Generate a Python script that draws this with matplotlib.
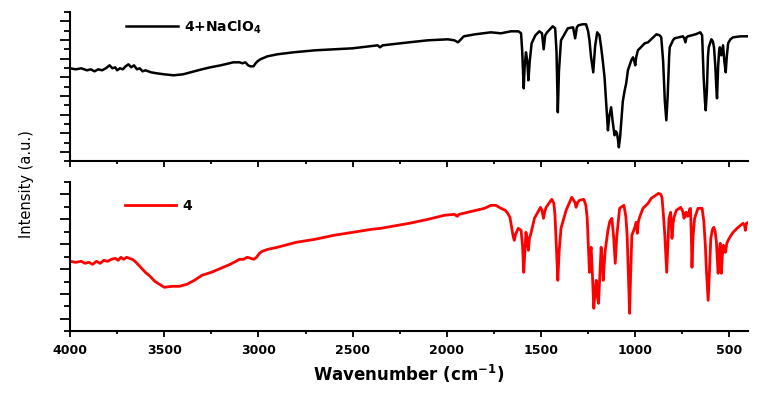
"""
FT-IR 비교: 4 vs 4+NaClO4
"""
import numpy as np
import matplotlib
matplotlib.use("Agg")
import matplotlib.pyplot as plt
import matplotlib.ticker as mticker

plt.rcParams["font.family"] = ["DejaVu Sans"]
plt.rcParams["mathtext.default"] = "bf"

# ── 데이터 (그림에서 읽은 값, 임의 단위) ─────────────────────────────
# 4+NaClO4 (위, 검정)
top_wn = [
    4000, 3970, 3940, 3910, 3890, 3870, 3850, 3830, 3810, 3790, 3775, 3760, 3750,
    3735, 3720, 3705, 3690, 3675, 3660, 3645, 3630, 3615, 3600, 3570, 3540, 3500,
    3450, 3400, 3360, 3300, 3255, 3200, 3133, 3100, 3085, 3069, 3055, 3043, 3026,
    3015, 3005, 2990, 2952, 2900, 2814, 2700, 2500, 2367, 2355, 2340, 2200, 2101,
    1995, 1960, 1941, 1925, 1910, 1850, 1766, 1713, 1660, 1620, 1606, 1600, 1592,
    1587, 1580, 1573, 1567, 1560, 1550, 1530, 1509, 1495, 1486, 1478, 1468, 1438,
    1425, 1418, 1411, 1405, 1394, 1358, 1330, 1319, 1310, 1302, 1280, 1261, 1250,
    1243, 1235, 1223, 1213, 1202, 1190, 1181, 1172, 1163, 1153, 1145, 1138, 1128,
    1120, 1110, 1103, 1097, 1092, 1087, 1080, 1072, 1066, 1057, 1048, 1039, 1030,
    1021, 1012, 1005, 1000, 995, 986, 970, 950, 932, 910, 888, 870, 862, 852, 843,
    835, 828, 820, 817, 800, 791, 747, 740, 734, 728, 720, 680, 655, 645, 640, 637,
    630, 626, 620, 614, 610, 596, 588, 582, 575, 570, 566, 560, 555, 551, 543, 534,
    527, 520, 514, 507, 495, 481, 440, 400,
]
top_int = [
    93, 92, 93, 91, 92, 90, 92, 91, 93, 96, 93, 94, 91,
    93, 92, 95, 97, 94, 96, 92, 93, 90, 91, 89, 88, 87,
    86, 87, 89, 92, 94, 96, 99, 99, 98, 99, 96, 95, 95,
    98, 100, 102, 105, 107, 109, 111, 113, 116, 114, 116, 119, 121,
    122, 121, 119, 122, 125, 127, 129, 128, 130, 130, 128, 110, 73,
    95, 109, 100, 81, 100, 118, 126, 130, 128, 112, 126, 129, 135,
    133, 110, 49, 90, 121, 133, 134, 123, 134, 136, 137, 137, 130,
    121, 105, 89, 115, 129, 126, 114, 100, 84, 55, 31, 45, 54,
    40, 26, 30, 28, 22, 14, 25, 45, 60, 70, 78, 91, 96,
    101, 104, 100, 96, 104, 111, 114, 118, 119, 123, 127, 126, 124, 100, 60,
    41, 65, 105, 114, 121, 123, 125, 123, 119, 124, 125, 127, 129, 126, 100, 84,
    60, 51, 70, 105, 114, 122, 120, 114, 95, 75, 63, 95, 110, 114, 106, 116,
    100, 89, 105, 118, 122, 124, 125, 125,
]

# 4 (아래, 빨강)
bot_wn = [
    4000, 3970, 3940, 3920, 3900, 3880, 3860, 3840, 3820, 3800, 3780, 3760, 3745,
    3730, 3715, 3700, 3685, 3670, 3655, 3640, 3625, 3600, 3575, 3550, 3525, 3500,
    3460, 3420, 3380, 3340, 3300, 3250, 3200, 3150, 3100, 3080, 3060, 3040, 3025,
    3010, 2995, 2980, 2950, 2900, 2800, 2700, 2600, 2500, 2400, 2351, 2200, 2100,
    2014, 1960, 1945, 1935, 1890, 1800, 1766, 1740, 1713, 1690, 1677, 1665, 1656,
    1648, 1642, 1635, 1621, 1606, 1598, 1592, 1586, 1580, 1573, 1567, 1561, 1556,
    1545, 1535, 1503, 1495, 1487, 1480, 1473, 1443, 1432, 1426, 1418, 1411, 1404,
    1394, 1367, 1337, 1320, 1314, 1305, 1296, 1273, 1262, 1255, 1249, 1243, 1238,
    1234, 1227, 1220, 1213, 1207, 1201, 1195, 1188, 1181, 1175, 1170, 1160, 1145,
    1135, 1124, 1115, 1106, 1098, 1083, 1060, 1050, 1043, 1036, 1030, 1024, 1018,
    1004, 995, 989, 983, 977, 959, 932, 915, 876, 865, 858, 850, 844, 833, 827,
    821, 812, 805, 799, 794, 782, 759, 748, 741, 735, 729, 723, 717, 712, 707, 703,
    699, 693, 685, 667, 645, 636, 628, 622, 613, 606, 599, 590, 583, 576, 569, 564,
    560, 555, 549, 546, 543, 538, 532, 527, 521, 514, 507, 495, 481, 454, 428, 420,
    415, 410, 400,
]
bot_int = [
    70, 69, 70, 68, 69, 67, 70, 68, 71, 70, 72, 73, 71,
    74, 72, 74, 73, 72, 70, 67, 64, 59, 55, 50, 47, 44,
    45, 45, 47, 51, 56, 59, 63, 67, 72, 72, 74, 73, 72,
    74, 78, 80, 82, 84, 89, 92, 96, 99, 102, 103, 108, 112,
    116, 117, 115, 117, 119, 123, 126, 126, 123, 121, 118, 114, 104,
    95, 91, 97, 103, 101, 85, 59, 80, 99, 90, 81, 94, 96,
    105, 113, 124, 121, 113, 120, 124, 132, 128, 116, 80, 51, 80,
    103, 121, 134, 129, 124, 129, 131, 132, 126, 113, 85, 59, 80,
    84, 55, 23, 40, 51, 35, 28, 55, 84, 70, 51, 80, 101,
    110, 113, 95, 68, 95, 123, 126, 115, 96, 55, 18, 60, 96,
    103, 109, 98, 110, 114, 123, 128, 133, 138, 137, 134, 115, 99, 59, 85,
    113, 119, 93, 108, 114, 121, 124, 120, 113, 118, 119, 115, 116, 122, 123, 100,
    64, 95, 113, 123, 123, 110, 86, 60, 31, 60, 93, 102, 104, 100, 89, 70,
    58, 78, 88, 75, 58, 75, 86, 84, 79, 88, 91, 95, 99, 104, 108, 106,
    101, 108, 109,
]

TOP_LABEL = "4+NaClO$_4$"
BOT_LABEL = "4"

# ── 그림 ──────────────────────────────────────────────────────────────
fig = plt.figure(figsize=(7.57, 3.94), dpi=100)
ax_top = fig.add_axes([0.0925, 0.5906, 0.896, 0.3789])
ax_bot = fig.add_axes([0.0925, 0.1591, 0.896, 0.3789])

ax_top.plot(top_wn, top_int, color="black", lw=1.8, label=TOP_LABEL)
ax_bot.plot(bot_wn, bot_int, color="#ff0000", lw=2.0, label=BOT_LABEL)

for ax in (ax_top, ax_bot):
    ax.set_xlim(4000, 400)
    ax.set_ylim(0, 149.3)
    ax.spines["top"].set_visible(False)
    ax.spines["right"].set_visible(False)
    ax.spines["left"].set_linewidth(1.5)
    ax.spines["bottom"].set_linewidth(1.5)
    ax.xaxis.set_major_locator(mticker.MultipleLocator(500))
    ax.xaxis.set_minor_locator(mticker.MultipleLocator(250))
    n = 16 if ax is ax_top else 12
    step = 149.3 / n
    ax.set_yticks([step * k for k in range(1, n + 1, 2)])
    ax.set_yticks([step * k for k in range(0, n + 1, 2)], minor=True)
    ax.set_yticklabels([])
    ax.tick_params(axis="y", which="major", direction="out", length=7, width=1.3)
    ax.tick_params(axis="y", which="minor", direction="out", length=4, width=1.3)
    ax.tick_params(axis="x", which="major", direction="out", length=4, width=1.3)
    ax.tick_params(axis="x", which="minor", direction="out", length=2.5, width=1.3)

ax_top.set_xticklabels([])
for lab in ax_bot.get_xticklabels():
    lab.set_fontweight("bold")
    lab.set_fontsize(9)
ax_bot.tick_params(axis="x", which="major", pad=5)

leg_kw = dict(frameon=False, loc="center left", borderpad=0, borderaxespad=0,
              handlelength=3.7, handletextpad=0.45,
              prop={"weight": "bold", "size": 10})
ax_top.legend(bbox_to_anchor=(0.083, 0.90), **leg_kw)
ax_bot.legend(bbox_to_anchor=(0.081, 0.84), **leg_kw)

fig.text(0.54, 0.05, "Wavenumber (cm$^{-1}$)", ha="center", va="center",
         fontsize=12, fontweight="bold")
fig.text(0.035, 0.534, "Intensity (a.u.)", rotation=90, ha="center", va="center",
         fontsize=10.5, family=["Liberation Sans Narrow", "DejaVu Sans"])

fig.savefig("out.png", dpi=100)
plt.close()
